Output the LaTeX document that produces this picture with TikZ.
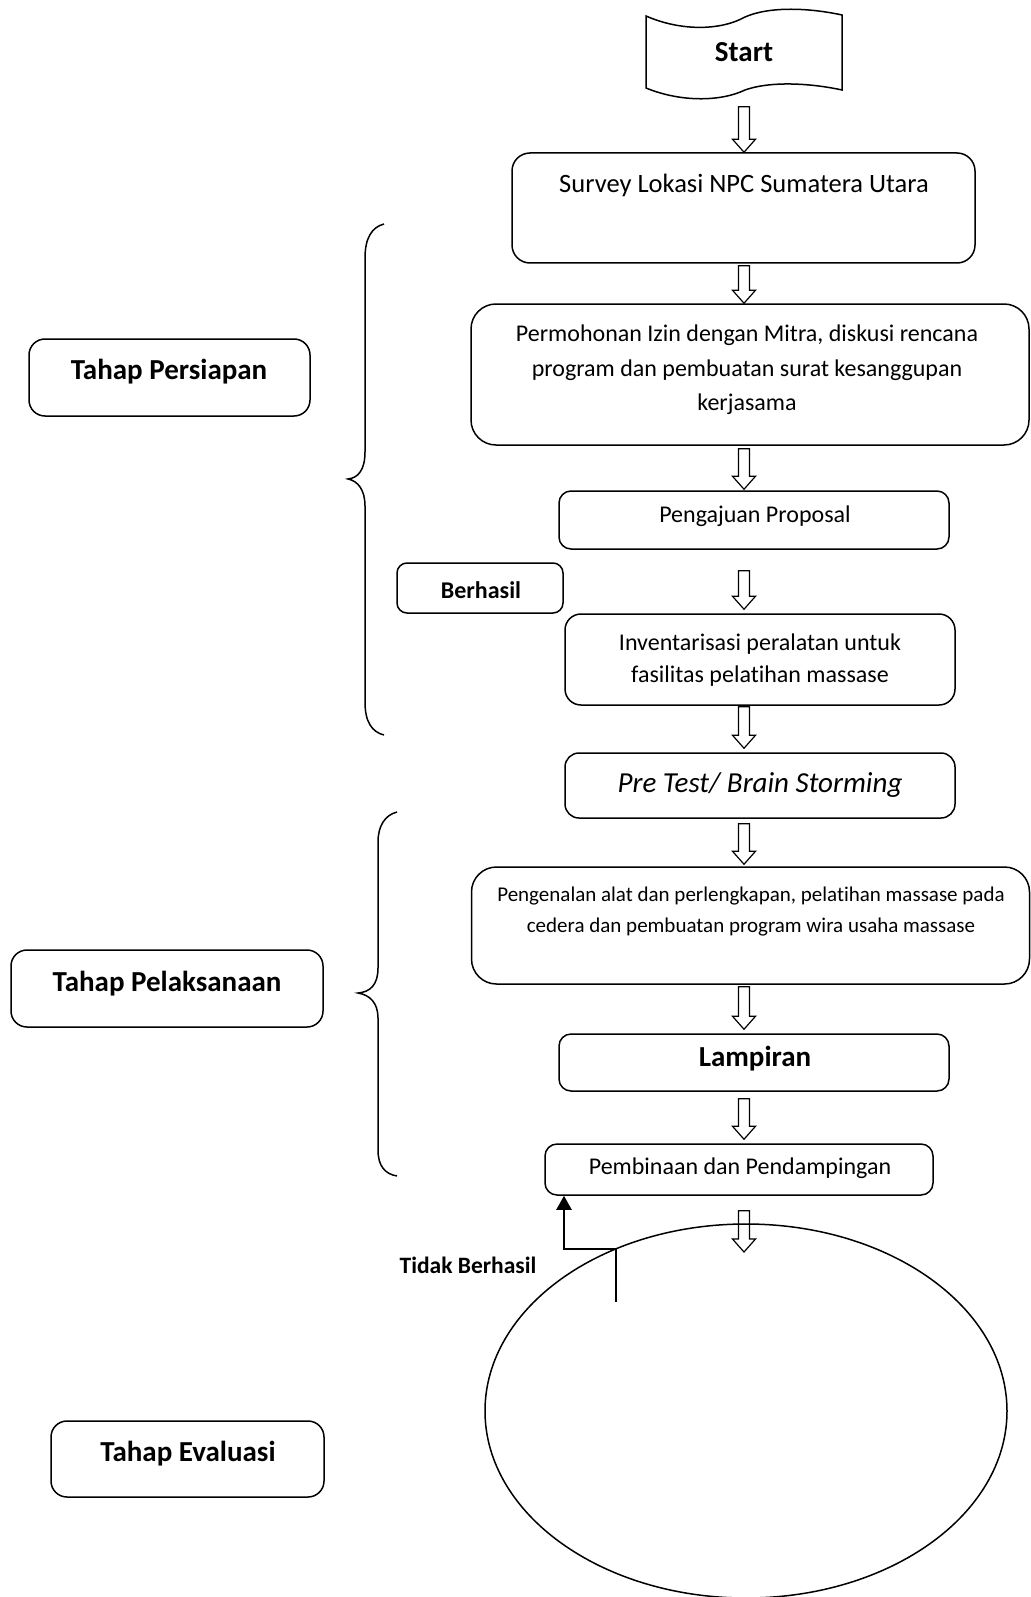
\documentclass[tikz,border=0pt]{standalone}
\usepackage{fontspec}
\setmainfont{Carlito}[Ligatures=NoCommon]
\usetikzlibrary{calc,arrows.meta,shapes.geometric}
\newcommand\hollowarrow[2]{%
  \draw[line width=1.2pt] let \p1=(#1), \p2=(#2) in
    (\x1-5.5pt,\y1) -- (\x1+5.5pt,\y1) -- (\x1+5.5pt,\y2+13pt) -- (\x1+11.5pt,\y2+13pt)
    -- (\x1,\y2) -- (\x1-11.5pt,\y2+13pt) -- (\x1-5.5pt,\y2+13pt) -- cycle;}
\begin{document}
\begin{tikzpicture}[x=1pt,y=-1pt,
  box/.style={draw, line width=1.5pt, rounded corners=#1, inner sep=0pt},
  box/.default=12pt,
  bodytxt/.style={font=\fontsize{24}{32}\selectfont, align=center, inner sep=0pt},
  boldtxt/.style={font=\fontsize{29}{34}\selectfont\bfseries, align=center, inner sep=0pt},
  fbline/.style={line width=2.2pt, -{Triangle[length=14pt,width=15pt]}},
  bracepath/.style={line width=1.5pt}]
\useasboundingbox (0,0) rectangle (1030,1597);

% Start
\draw[line width=1.5pt] (646,16) .. controls (680,31) and (720,31) .. (745,17)
  .. controls (770,6) and (810,8) .. (842,15) -- (842,90)
  .. controls (810,83) and (770,81) .. (745,90)
  .. controls (720,102) and (680,102) .. (646,88) -- cycle;
\node[boldtxt, minimum width=196pt, minimum height=74pt] (st) at (744,52) {Start};

% main column
\node[box=18pt, minimum width=463pt, minimum height=110pt] (sv) at (743.5,208) {};
\node[bodytxt, font=\fontsize{26.5}{32}\selectfont] (svt) at (744,185) {Survey Lokasi NPC Sumatera Utara};

\node[box=25pt, minimum width=558pt, minimum height=141pt] (pm) at (750,374.5) {};
\node[bodytxt, font=\fontsize{24}{34.5}\selectfont] (pmt) at (747,370) {Permohonan Izin dengan Mitra, diskusi rencana\\program dan pembuatan surat kesanggupan\\kerjasama};

\node[box, minimum width=390pt, minimum height=58pt] (pj) at (754,520) {};
\node[bodytxt] (pjt) at (755,516) {Pengajuan Proposal};

\node[box=10pt, minimum width=166pt, minimum height=50pt] (bh) at (480,588) {};
\node[boldtxt, font=\fontsize{24}{30}\selectfont\bfseries] (bht) at (481,590) {Berhasil};

\node[box=16pt, minimum width=390pt, minimum height=91pt] (inv) at (760,659.5) {};
\node[bodytxt] (invt) at (760,660) {Inventarisasi peralatan untuk\\fasilitas pelatihan massase};

\node[box=14pt, minimum width=390pt, minimum height=65pt] (pre) at (760,785.5) {};
\node[bodytxt, font=\fontsize{29}{34}\selectfont\itshape] (pret) at (760,785) {Pre Test/ Brain Storming};

\node[box=25pt, minimum width=558pt, minimum height=117pt] (pg) at (750.5,925.5) {};
\node[bodytxt, font=\fontsize{21}{31}\selectfont] (pgt) at (751,912) {Pengenalan alat dan perlengkapan, pelatihan massase pada\\cedera dan pembuatan program wira usaha massase};

\node[box, minimum width=390pt, minimum height=57pt] (lp) at (754,1062.5) {};
\node[boldtxt] (lpt) at (755,1059) {Lampiran};

\node[box, minimum width=388pt, minimum height=51pt] (pb) at (739,1169.5) {};
\node[bodytxt] (pbt) at (740,1168) {Pembinaan dan Pendampingan};

\node[draw, ellipse, line width=1.5pt, minimum width=522pt, minimum height=374pt, inner sep=0pt] (ev) at (746,1411) {};

% left labels
\node[box=16pt, minimum width=281pt, minimum height=77pt] (tp1) at (169.5,377.5) {};
\node[boldtxt] (tp1t) at (169,372) {Tahap Persiapan};
\node[box=16pt, minimum width=312pt, minimum height=77pt] (tp2) at (167,988.5) {};
\node[boldtxt] (tp2t) at (167,984) {Tahap Pelaksanaan};
\node[box=16pt, minimum width=273pt, minimum height=76pt] (tp3) at (187.5,1459) {};
\node[boldtxt] (tp3t) at (188,1454) {Tahap Evaluasi};

% braces
\draw[bracepath] (384,224) .. controls (372,227) and (365,238) .. (365,258) -- (365,452)
  .. controls (365,470) and (358,478) .. (348,479)
  .. controls (358,481) and (365,490) .. (365,506) -- (365,702)
  .. controls (365,722) and (372,732) .. (384,735);
\draw[bracepath] (397,812) .. controls (385,815) and (378,826) .. (378,842) -- (378,968)
  .. controls (378,985) and (370,992) .. (358,993)
  .. controls (370,995) and (378,1003) .. (378,1018) -- (378,1150)
  .. controls (378,1166) and (385,1174) .. (397,1176);

% hollow arrows
\coordinate (ax) at (744,0);
\hollowarrow{$(st.south -| ax)+(0,17.5)$}{sv.north -| ax}
\hollowarrow{$(sv.south -| ax)+(0,2)$}{pm.north -| ax}
\hollowarrow{$(pm.south -| ax)+(0,3)$}{$(pj.north -| ax)+(0,-1)$}
\hollowarrow{$(pj.south -| ax)+(0,21)$}{$(inv.north -| ax)+(0,-4)$}
\hollowarrow{$(inv.south -| ax)+(0,1)$}{$(pre.north -| ax)+(0,-4)$}
\hollowarrow{$(pre.south -| ax)+(0,5)$}{$(pg.north -| ax)+(0,-2)$}
\hollowarrow{$(pg.south -| ax)+(0,2)$}{$(lp.north -| ax)+(0,-4)$}
\hollowarrow{$(lp.south -| ax)+(0,7)$}{$(pb.north -| ax)+(0,-4)$}
\coordinate (e9) at (744,1252);
\hollowarrow{$(pb.south -| ax)+(0,15)$}{e9}

% feedback
\coordinate (fb0) at (616,1302);
\coordinate (fb1) at (616,1249);
\coordinate (fbx) at (564,0);
\draw[fbline] (fb0) -- (fb1) -| (fbx |- pb.south);
\node[boldtxt, font=\fontsize{23.5}{28}\selectfont\bfseries] (tb) at (468,1265) {Tidak Berhasil};
\end{tikzpicture}
\end{document}
